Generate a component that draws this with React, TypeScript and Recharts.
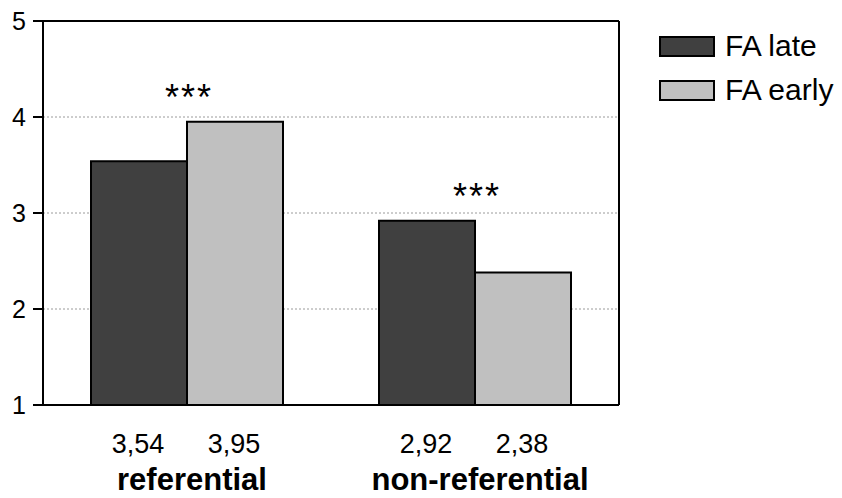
import React from 'react';
import {
  BarChart, Bar, XAxis, YAxis, CartesianGrid, ReferenceLine, Legend, LabelList,
} from 'recharts';

const categories = ['referential', 'non-referential'];
const faLate = [3.54, 2.92];
const faEarly = [3.95, 2.38];
const significance = ['***', '***'];
const yTicks = [1, 2, 3, 4, 5];
const seriesNames = ['FA late', 'FA early'];

const data = categories.map((name, i) => ({
  name,
  late: faLate[i],
  early: faEarly[i],
  sig: significance[i],
}));

const FONT = '"Liberation Sans", Arial, sans-serif';
const DOMAIN_MIN = 1;

// comma decimals, like the original (3,54)
const fmt = (v: number) => v.toFixed(2).replace('.', ',');

function box(p: any) {
  const vb = p.viewBox ?? p;
  return { x: +vb.x, y: +vb.y, w: +vb.width, h: +vb.height };
}

// value under each bar
function ValueLabel(p: any) {
  const { x, y, w, h } = box(p);
  const v = Number(p.value);
  return (
    <text x={x + w / 2 - 1} y={y + h + 48} textAnchor="middle" fontFamily={FONT} fontSize={27} fill="#000">
      {fmt(v)}
    </text>
  );
}

// *** above the taller bar of the group, centred on the group
function SigLabel(p: any) {
  const { x, y, w, h } = box(p);
  const i = p.index;
  const v = faLate[i];
  const bottom = y + h;
  const perUnit = h / (v - DOMAIN_MIN);
  const top = bottom - (Math.max(faLate[i], faEarly[i]) - DOMAIN_MIN) * perUnit;
  return (
    <text x={x + w + 2} y={top - 12} textAnchor="middle" fontFamily={FONT} fontSize={36} letterSpacing={2} fill="#000">
      {significance[i]}
    </text>
  );
}

function CategoryTick(p: any) {
  return (
    <text x={p.x + 5} y={p.y + 77} textAnchor="middle" fontFamily={FONT} fontSize={31} fontWeight="bold" fill="#000">
      {p.payload.value}
    </text>
  );
}

function LegendBox(p: any) {
  const items = [...(p.payload ?? [])].sort(
    (a: any, b: any) => seriesNames.indexOf(a.value) - seriesNames.indexOf(b.value),
  );
  return (
    <div style={{ fontFamily: FONT, fontSize: 30, color: '#000' }}>
      {items.map((it: any) => (
        <div key={it.value} style={{ display: 'flex', alignItems: 'center', height: 44 }}>
          <span style={{
            display: 'inline-block', width: 52, height: 17, background: it.color,
            border: '2px solid #000', marginRight: 10,
          }} />
          <span>{it.value}</span>
        </div>
      ))}
    </div>
  );
}

export default function App() {
  return (
    <div style={{ position: 'absolute', left: 0, top: 0, width: 842, height: 498, background: '#fff' }}>
      <BarChart
        width={842}
        height={498}
        data={data}
        margin={{ top: 21, right: 0, bottom: 0, left: 0 }}
        barCategoryGap={48}
        barGap={0}
      >
        <CartesianGrid vertical={false} stroke="#9a9a9a" strokeDasharray="2 2" />
        <XAxis
          dataKey="name"
          tickLine={false}
          axisLine={{ stroke: '#000', strokeWidth: 2 }}
          tick={<CategoryTick />}
          interval={0}
          height={93}
        />
        <YAxis
          domain={[1, 5]}
          ticks={yTicks}
          width={43}
          tickSize={10}
          tickMargin={7}
          axisLine={{ stroke: '#000', strokeWidth: 2 }}
          tickLine={{ stroke: '#000', strokeWidth: 2 }}
          tick={{ fill: '#000', fontFamily: FONT, fontSize: 25 }}
        />
        <YAxis
          yAxisId="right"
          orientation="right"
          domain={[1, 5]}
          ticks={yTicks}
          width={223}
          tickSize={10}
          tickFormatter={() => ''}
          axisLine={{ stroke: '#000', strokeWidth: 2 }}
          tickLine={{ stroke: '#000', strokeWidth: 2 }}
        />
        <ReferenceLine y={5} stroke="#000" strokeWidth={2} />
        <Legend
          layout="horizontal"
          verticalAlign="middle"
          align="center"
          content={<LegendBox />}
          wrapperStyle={{ left: 659, top: 24, width: 183 }}
        />
        <Bar dataKey="late" name={seriesNames[0]} fill="#404040" stroke="#000" strokeWidth={2} isAnimationActive={false}>
          <LabelList dataKey="late" content={<ValueLabel />} />
          <LabelList dataKey="sig" content={<SigLabel />} />
        </Bar>
        <Bar dataKey="early" name={seriesNames[1]} fill="#c0c0c0" stroke="#000" strokeWidth={2} isAnimationActive={false}>
          <LabelList dataKey="early" content={<ValueLabel />} />
        </Bar>
      </BarChart>
    </div>
  );
}
